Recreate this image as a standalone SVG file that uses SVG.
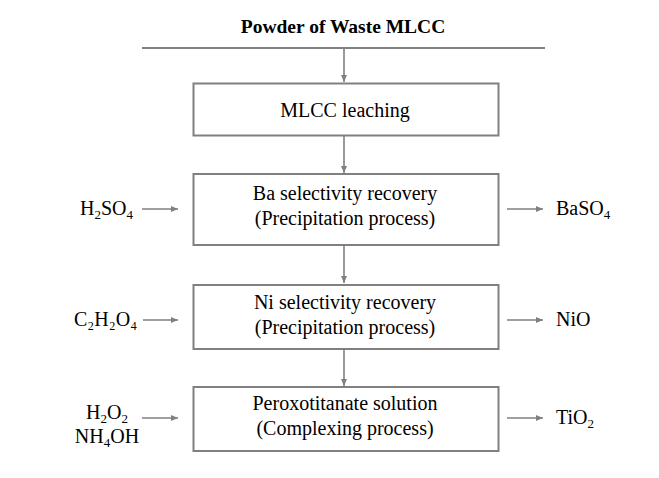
<svg xmlns="http://www.w3.org/2000/svg" width="659" height="478" viewBox="0 0 659 478">
<style>
text{font-family:"Liberation Serif","Times New Roman",serif;font-size:20px;fill:#000}
.c{text-anchor:middle}
.t{font-weight:bold;font-size:19.5px}
.box{fill:#fff;stroke:#808080;stroke-width:2}
.ln{stroke:#808080;stroke-width:1.6;fill:none}
.sub{font-size:13px}
</style>
<defs>
<marker id="ah" markerWidth="8" markerHeight="8" refX="7" refY="4" orient="auto" markerUnits="userSpaceOnUse">
<path d="M0,1 L7,4 L0,7 Z" fill="#808080"/>
</marker>
</defs>
<g id="title">
<text class="c t" x="343" y="33">Powder of Waste MLCC</text>
<line x1="142" y1="48" x2="545" y2="48" stroke="#808080" stroke-width="2"/>
</g>
<g id="connectors">
<line class="ln" x1="344" y1="48" x2="344" y2="82" marker-end="url(#ah)"/>
<line class="ln" x1="344" y1="136" x2="344" y2="173" marker-end="url(#ah)"/>
<line class="ln" x1="344" y1="245" x2="344" y2="283" marker-end="url(#ah)"/>
<line class="ln" x1="344" y1="349" x2="344" y2="386" marker-end="url(#ah)"/>
<line class="ln" x1="142" y1="209" x2="178" y2="209" marker-end="url(#ah)"/>
<line class="ln" x1="507" y1="209" x2="543" y2="209" marker-end="url(#ah)"/>
<line class="ln" x1="143" y1="320" x2="178" y2="320" marker-end="url(#ah)"/>
<line class="ln" x1="507" y1="320" x2="543" y2="320" marker-end="url(#ah)"/>
<line class="ln" x1="142" y1="418" x2="178" y2="418" marker-end="url(#ah)"/>
<line class="ln" x1="507" y1="418" x2="543" y2="418" marker-end="url(#ah)"/>
</g>
<g id="leaching">
<rect class="box" x="193.5" y="83.5" width="305" height="52"/>
<text class="c" x="345" y="117">MLCC leaching</text>
</g>
<g id="ba">
<rect class="box" x="193.5" y="174" width="305" height="71"/>
<text class="c" x="345" y="200">Ba selectivity recovery</text>
<text class="c" x="345" y="225">(Precipitation process)</text>
</g>
<g id="ni">
<rect class="box" x="193.5" y="285" width="305" height="64"/>
<text class="c" x="345" y="309">Ni selectivity recovery</text>
<text class="c" x="345" y="334">(Precipitation process)</text>
</g>
<g id="ti">
<rect class="box" x="193.5" y="387" width="305" height="64"/>
<text class="c" x="345" y="410">Peroxotitanate solution</text>
<text class="c" x="345" y="435">(Complexing process)</text>
</g>
<g id="h2so4">
<text x="80" y="215">H<tspan class="sub" dy="4">2</tspan><tspan dy="-4">SO</tspan><tspan class="sub" dy="4">4</tspan></text>
</g>
<g id="baso4">
<text x="556" y="215">BaSO<tspan class="sub" dy="4">4</tspan></text>
</g>
<g id="c2h2o4">
<text x="74" y="326">C₂H₂O₄</text>
</g>
<g id="nio">
<text x="556" y="326">NiO</text>
</g>
<g id="h2o2">
<text class="c" x="107" y="419">H<tspan class="sub" dy="4">2</tspan><tspan dy="-4">O</tspan><tspan class="sub" dy="4">2</tspan></text>
<text class="c" x="107" y="443">NH<tspan class="sub" dy="4">4</tspan><tspan dy="-4">OH</tspan></text>
</g>
<g id="tio2">
<text x="556" y="424">TiO<tspan class="sub" dy="4">2</tspan></text>
</g>
</svg>
